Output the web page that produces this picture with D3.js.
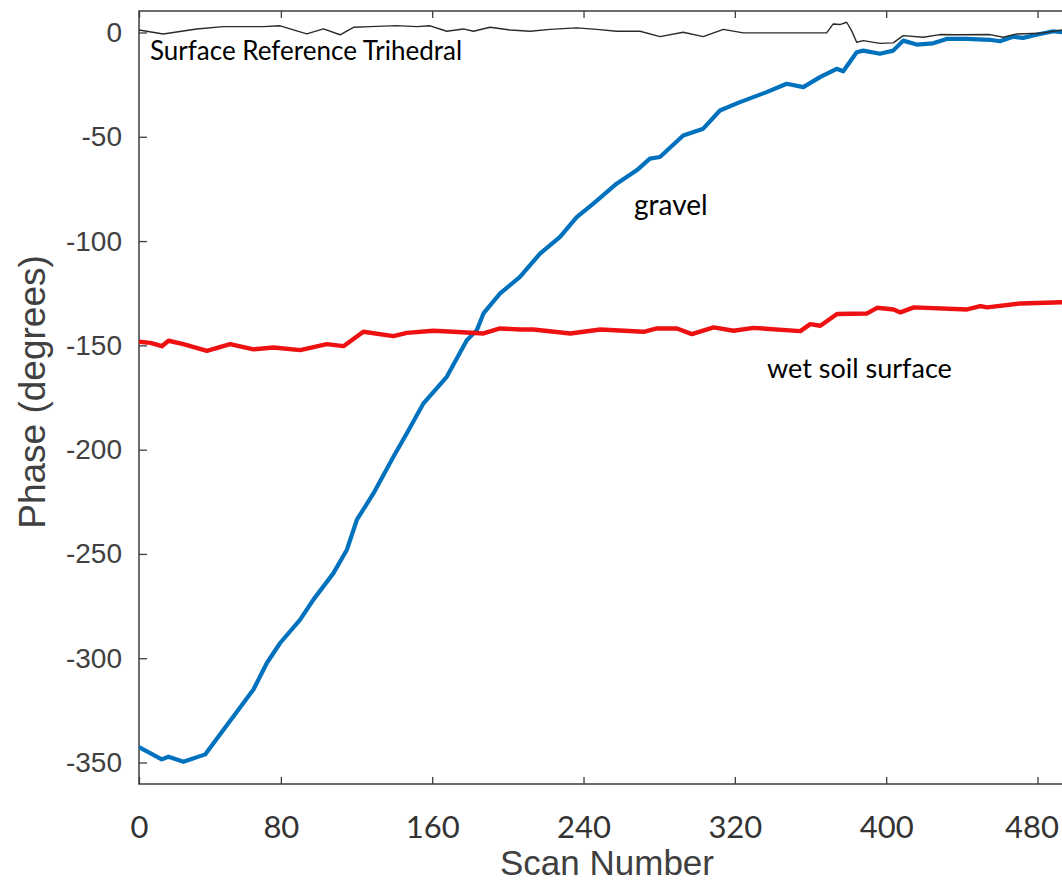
<!DOCTYPE html>
<html>
<head>
<meta charset="utf-8">
<script src="https://cdn.jsdelivr.net/npm/d3@7/dist/d3.min.js"></script>
<style>
  html, body { margin: 0; padding: 0; background: #fff; }
  svg { display: block; }
</style>
</head>
<body>
<svg id="chart" width="1062" height="885"></svg>
<script>
// ---------------- data ----------------
const gravelScan  = [5, 17, 20.6, 28.5, 40, 42.6, 55, 65.5, 72.6, 79.6, 90.2, 97.2, 107.8, 114.9, 120.2, 129, 139.5, 146.6, 155.4, 167.7, 178.3, 183.6, 187.1, 195.9, 206.4, 217, 227.6, 236.4, 245.2, 257.5, 268.1, 275.1, 280.4, 292.7, 303.3, 312.1, 322.7, 336.8, 347.4, 356.2, 365, 373.8, 377.3, 384.4, 387.9, 396.7, 403.7, 409, 416.1, 424.8, 431.9, 442.5, 454.8, 460.1, 467.1, 472.4, 479.5, 488.3, 493];
const gravelPhase = [-342.6, -348.5, -347.2, -349.6, -346.1, -342.9, -327.8, -315, -302.3, -292.7, -281.5, -271.9, -259.2, -248, -233.6, -220.9, -203.4, -192.1, -177.8, -165.1, -147.5, -142.7, -134.7, -125.1, -117.2, -106, -98, -88.5, -82, -72.5, -66.1, -60.5, -59.7, -49.4, -46.1, -37.4, -33.4, -28.6, -24.6, -26.2, -21.4, -17.4, -18.6, -9.5, -8.7, -10.2, -8.7, -3.9, -5.8, -5.2, -3.1, -3.1, -3.5, -4.2, -2, -2.6, -1.1, 0.6, 0.1];

const soilScan  = [5, 11, 17.1, 20.6, 28.5, 40.9, 53.2, 65.5, 76.1, 90.2, 104.3, 113.1, 123.6, 139.5, 146.6, 160.6, 171.2, 187.1, 195.9, 206.4, 213.5, 233, 248.9, 271.8, 278.8, 289.4, 297.3, 308.8, 319.3, 329.9, 354.6, 359.9, 365.2, 374, 389.9, 395.2, 404, 407.5, 414.6, 442.8, 449.8, 453.4, 471, 493];
const soilPhase = [-148.3, -148.8, -150.4, -147.8, -149.4, -152.6, -149.4, -151.9, -151, -152.3, -149.4, -150.4, -143.5, -145.6, -144, -143, -143.5, -144.3, -141.9, -142.4, -142.4, -144.3, -142.4, -143.5, -141.9, -141.9, -144.6, -141.4, -143, -141.6, -143.2, -139.8, -140.6, -135, -134.7, -132, -132.8, -134.2, -131.8, -132.8, -131.2, -131.8, -129.9, -129.3];

const trihedralScan  = [5, 17.8, 35.5, 49.6, 70.8, 79.6, 93.7, 102.5, 111.3, 118.4, 127.2, 141.3, 151.9, 158.9, 167.7, 176.5, 181.8, 190.6, 201.2, 211.8, 222.3, 236.4, 247, 257.5, 269.9, 280.4, 292.7, 303.3, 313.9, 324.4, 338.5, 352.6, 368.5, 372, 375.5, 379.1, 381.7, 384.4, 387.9, 396.7, 403.7, 409, 419.6, 428.4, 437.2, 454.8, 461.9, 469, 481.3, 493];
const trihedralPhase = [1.2, -0.7, 1.7, 2.8, 2.8, 3.2, -0.7, 1.7, -1.1, 2.5, 2.8, 3.3, 2.8, 3.2, 0.6, 1.7, 0.6, 2.5, 1.2, 0.6, 1.5, 2.2, 1.5, 0.6, 0.6, -2, 0.1, -2, 1.5, -0.2, -0.2, -0.2, -0.2, 4.1, 3.8, 4.9, 0.9, -4.7, -3.9, -5.2, -5, -1.5, -2.3, -1, -1.1, -1, -2.3, -0.7, -0.4, 1.2];

const xTickValues = [5, 80, 160, 240, 320, 400, 480];
const xTickLabels = ["0", "80", "160", "240", "320", "400", "480"];
const yTickValues = [0, -50, -100, -150, -200, -250, -300, -350];

const seriesNames = ["gravel", "wet soil surface", "Surface Reference Trihedral"];
// ---------------------------------------------------------------

const svg = d3.select("#chart");
const mLeft = 139, mRight = 1064, mTop = 11, mBottom = 784;

const x = d3.scaleLinear().domain([5, 494]).range([mLeft, mRight]);
const y = d3.scaleLinear().domain([-360.3, 10.3]).range([mBottom, mTop]);

const axisColor = "#3c3c3c";
const textGray = "#404040";

svg.append("defs").append("clipPath").attr("id", "plotclip")
  .append("rect").attr("x", mLeft).attr("y", mTop).attr("width", mRight - mLeft).attr("height", mBottom - mTop);

// bottom axis (ticks inward)
const xAxisB = svg.append("g").attr("transform", `translate(0,${mBottom})`)
  .call(d3.axisBottom(x).tickValues(xTickValues).tickSizeInner(-7).tickSizeOuter(0)
        .tickFormat((d, i) => xTickLabels[i]));
xAxisB.select(".domain").remove();
xAxisB.selectAll(".tick line").attr("stroke", axisColor).attr("stroke-width", 1.3);
xAxisB.selectAll(".tick text")
  .attr("y", 54).attr("dy", 0)
  .attr("dx", (d, i) => i === xTickLabels.length - 1 ? -6 : 0)
  .attr("fill", "#333")
  .style("font-family", "Lato, 'Open Sans', sans-serif")
  .style("font-size", "31px");

// top axis (ticks only)
const xAxisT = svg.append("g").attr("transform", `translate(0,${mTop})`)
  .call(d3.axisTop(x).tickValues(xTickValues).tickSizeInner(-7).tickSizeOuter(0).tickFormat(""));
xAxisT.select(".domain").remove();
xAxisT.selectAll(".tick line").attr("stroke", axisColor).attr("stroke-width", 1.3);

// left axis
const yAxis = svg.append("g").attr("transform", `translate(${mLeft},0)`)
  .call(d3.axisLeft(y).tickValues(yTickValues).tickSizeInner(-8).tickSizeOuter(0).tickPadding(17)
        .tickFormat(d => String(d)));
yAxis.select(".domain").remove();
yAxis.selectAll(".tick line").attr("stroke", axisColor).attr("stroke-width", 1.3);
yAxis.selectAll(".tick text")
  .attr("fill", textGray)
  .style("font-family", "'Liberation Sans', Arial, sans-serif")
  .style("font-size", "28px");

// box
svg.append("rect").attr("x", mLeft).attr("y", mTop).attr("width", mRight - mLeft).attr("height", mBottom - mTop)
  .attr("fill", "none").attr("stroke", axisColor).attr("stroke-width", 1.5);

// lines
const plot = svg.append("g").attr("clip-path", "url(#plotclip)");
const line = d3.line().x(d => x(d[0])).y(d => y(d[1]));

const gravel = gravelScan.map((s, i) => [s, gravelPhase[i]]);
const soil = soilScan.map((s, i) => [s, soilPhase[i]]);
const tri = trihedralScan.map((s, i) => [s, trihedralPhase[i]]);

plot.append("path").datum(gravel).attr("d", line)
  .attr("fill", "none").attr("stroke", "#0072BD").attr("stroke-width", 4.2).attr("stroke-linejoin", "round");
plot.append("path").datum(soil).attr("d", line)
  .attr("fill", "none").attr("stroke", "#ee1111").attr("stroke-width", 4.4).attr("stroke-linejoin", "round");
plot.append("path").datum(tri).attr("d", line)
  .attr("fill", "none").attr("stroke", "#2a2a2a").attr("stroke-width", 1.4).attr("stroke-linejoin", "round");

// series annotations
const annoFont = "Lato, 'Open Sans', sans-serif";
svg.append("text").attr("x", 150).attr("y", 60).text(seriesNames[2])
  .attr("fill", "#000").style("font-family", annoFont).style("font-size", "26px");
svg.append("text").attr("x", 634).attr("y", 215).text(seriesNames[0])
  .attr("fill", "#000").style("font-family", annoFont).style("font-size", "28px");
svg.append("text").attr("x", 767).attr("y", 378).text(seriesNames[1])
  .attr("fill", "#000").style("font-family", annoFont).style("font-size", "27px");

// axis titles
svg.append("text").attr("transform", "translate(45,392) rotate(-90)")
  .attr("text-anchor", "middle").text("Phase (degrees)")
  .attr("fill", textGray).style("font-family", "'Liberation Sans', Arial, sans-serif").style("font-size", "37px");
svg.append("text").attr("x", 607).attr("y", 875)
  .attr("text-anchor", "middle").text("Scan Number")
  .attr("fill", textGray).style("font-family", "'Liberation Sans', Arial, sans-serif").style("font-size", "35px");
</script>
</body>
</html>
